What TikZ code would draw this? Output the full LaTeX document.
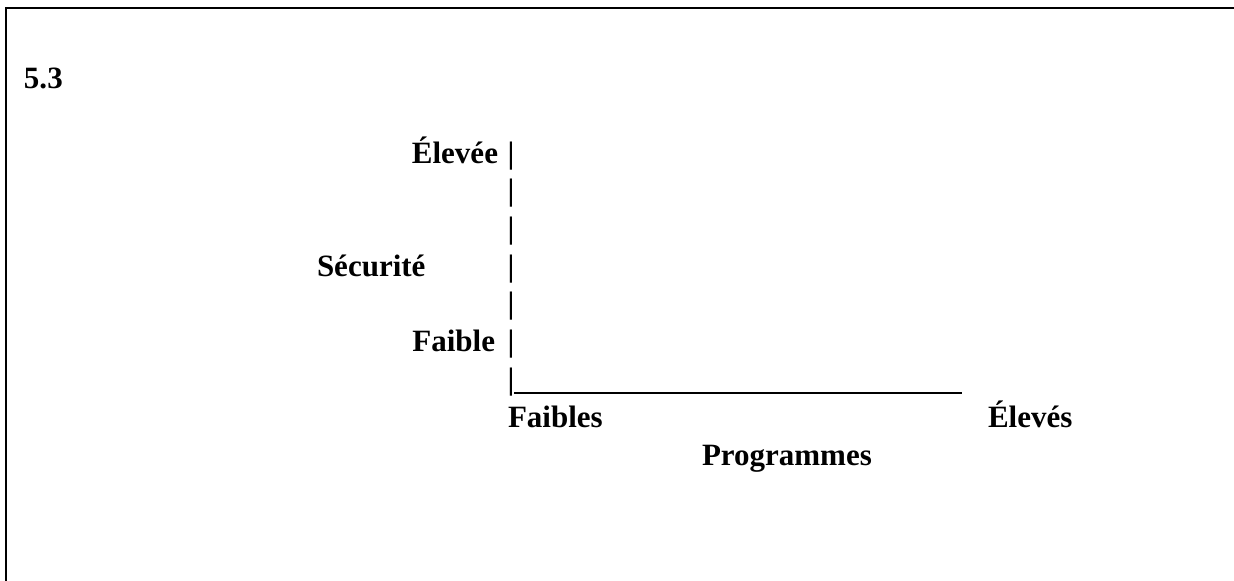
\documentclass[tikz,border=0pt]{standalone}
\usepackage{fontspec}
\setmainfont{Liberation Serif}
\begin{document}
\begin{tikzpicture}[x=0.5pt,y=-0.5pt,
  lbl/.style={font=\fontsize{15.5}{18}\selectfont\bfseries, inner sep=0pt, outer sep=0pt},
  frameline/.style={line width=1pt, line cap=rect},
  axisline/.style={line width=0.9pt}]
\useasboundingbox (0,0) rectangle (1234,580);
% frame (only top and left edges visible)
\draw[frameline] (6,580) -- (6,8) -- (1234,8);
% labels
\node[lbl, anchor=base west] (num) at (24,88) {5.3};
\node[lbl, anchor=base east] (hi) at (498,163) {Élevée};
\node[lbl, anchor=base west] (sec) at (317,276) {Sécurité};
\node[lbl, anchor=base east] (lo) at (495,351) {Faible};
\node[lbl, anchor=base west] (xlo) at (508,427) {Faibles};
\node[lbl, anchor=base west] (xhi) at (988,427) {Élevés};
\node[lbl, anchor=base west] (xt) at (702,465) {Programmes};
% vertical axis made of bars
\foreach \yy [count=\i] in {163,200.5,238,276,313.5,351,389}
  \node[lbl, anchor=base] (bar\i) at (511,\yy) {|};
% horizontal axis
\coordinate (ax0) at (514,393);
\coordinate (ax1) at (962,393);
\draw[axisline] (ax0) -- (ax1);
\end{tikzpicture}
\end{document}
